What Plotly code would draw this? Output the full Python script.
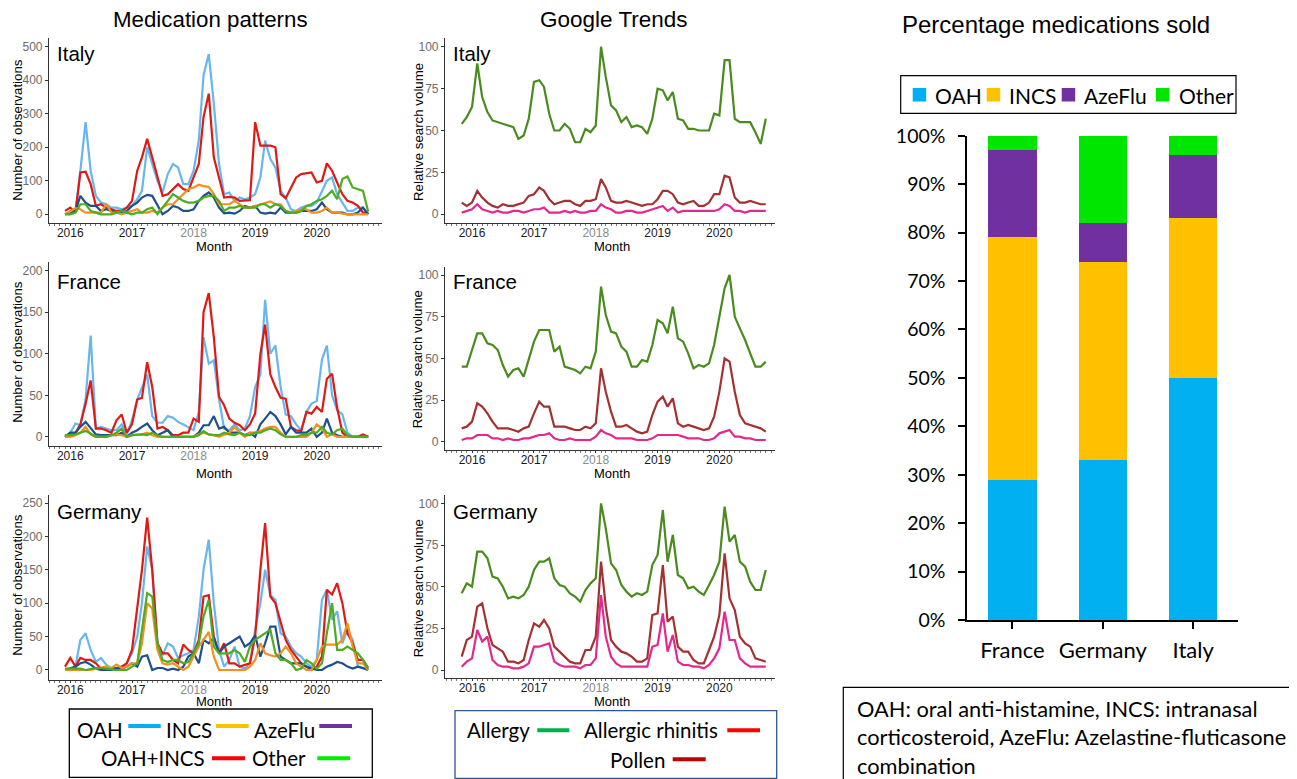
import pandas as pd
import plotly.graph_objects as go

# The page body keeps an 8 px margin, so the figure is 8 px smaller and
# every reference pixel position is shifted by that offset.
OFF = 8
W, H = 1297 - OFF, 779 - OFF


def px(x):
    return (x - OFF) / W


def py(y):
    return 1 - (y - OFF) / H


# ---------------- data ----------------
med_months = pd.date_range("2015-12-01", periods=60, freq="MS")
gt_months = pd.date_range("2015-11-01", periods=60, freq="MS")
year_ticks = ["2016-01-01", "2017-01-01", "2018-01-01", "2019-01-01", "2020-01-01"]
year_labels = ["2016", "2017", "<span style='color:#8a8a8a'>2018</span>", "2019", "2020"]

# Medication patterns (number of observations), Dec 2015 - Nov 2020
italy_oah = [0, 5, 10, 130, 275, 130, 55, 35, 30, 20, 20, 15,
             20, 25, 45, 70, 200, 150, 100, 65, 120, 150, 140, 90,
             90, 130, 220, 415, 478, 330, 150, 60, 65, 40, 50, 45,
             50, 60, 110, 220, 165, 140, 70, 50, 15, 10, 20, 25,
             25, 35, 70, 100, 110, 60, 35, 10, 10, 20, 20, 0]
italy_oah_incs = [10, 20, 5, 125, 127, 90, 25, 30, 20, 15, 10, 10,
                  20, 40, 130, 170, 225, 170, 110, 55, 60, 75, 90, 75,
                  70, 110, 150, 290, 360, 170, 110, 50, 52, 50, 40, 42,
                  42, 275, 205, 205, 205, 200, 60, 48, 80, 110, 120, 123,
                  125, 95, 100, 152, 130, 95, 60, 40, 35, 25, 5, 5]
italy_azeflu = [0, 5, 10, 55, 35, 25, 25, 10, 15, 10, 5, 5,
                10, 25, 35, 50, 58, 55, 25, 0, 10, 25, 20, 10,
                10, 15, 40, 55, 65, 50, 20, 3, 5, 2, 10, 25,
                20, 25, 5, 2, 5, 2, 20, 5, 5, 5, 10, 10,
                10, 15, 35, 15, 5, 5, 5, 0, 0, 5, 20, 0]
italy_incs = [0, 10, 18, 15, 5, 5, 5, 5, 30, 5, 5, 0,
              5, 10, 15, 5, 5, 10, 5, 20, 30, 30, 45, 60,
              75, 80, 88, 84, 82, 60, 30, 30, 30, 40, 30, 20,
              20, 25, 30, 35, 38, 30, 30, 10, 5, 10, 15, 15,
              5, 5, 10, 20, 5, 5, 2, 0, 0, 0, 0, 0]
italy_other = [0, 0, 5, 30, 30, 10, 5, 0, 0, 0, 5, 10,
               5, 0, 5, 5, 15, 20, 0, 20, 40, 60, 50, 40,
               35, 35, 40, 50, 55, 55, 40, 10, 20, 20, 25, 20,
               20, 20, 30, 30, 20, 30, 25, 10, 5, 5, 10, 25,
               30, 40, 45, 55, 70, 45, 105, 113, 80, 75, 70, 8]

france_oah = [0, 5, 16, 14, 45, 122, 10, 12, 10, 8, 8, 15,
              3, 20, 45, 60, 75, 25, 17, 17, 25, 23, 18, 15,
              12, 8, 30, 120, 88, 92, 45, 10, 8, 15, 8, 10,
              25, 60, 75, 165, 100, 110, 60, 27, 25, 15, 8, 30,
              40, 43, 93, 110, 50, 32, 27, 5, 0, 0, 0, 0]
france_oah_incs = [0, 2, 5, 15, 40, 68, 10, 10, 8, 5, 20, 27,
                   5, 15, 45, 47, 90, 60, 10, 12, 8, 2, 2, 5,
                   5, 22, 18, 150, 173, 120, 48, 38, 22, 17, 14, 8,
                   15, 28, 100, 135, 75, 60, 47, 46, 12, 8, 7, 30,
                   28, 36, 30, 70, 76, 35, 5, 0, 0, 0, 3, 0]
france_azeflu = [0, 5, 5, 12, 18, 10, 3, 2, 2, 2, 2, 5,
                 0, 5, 8, 12, 16, 8, 2, 5, 8, 0, 0, 0,
                 0, 0, 5, 14, 14, 25, 10, 12, 5, 5, 5, 2,
                 5, 0, 15, 22, 30, 25, 15, 3, 12, 5, 5, 5,
                 10, 0, 5, 22, 5, 2, 0, 0, 0, 0, 0, 0]
france_incs = [0, 0, 2, 5, 12, 3, 0, 0, 0, 2, 3, 2,
               0, 2, 3, 3, 5, 2, 0, 0, 0, 0, 0, 0,
               0, 0, 3, 5, 3, 2, 0, 2, 5, 12, 5, 0,
               5, 5, 7, 10, 12, 12, 5, 0, 0, 0, 0, 0,
               5, 15, 10, 0, 3, 0, 0, 0, 0, 0, 0, 0]
france_other = [2, 2, 3, 5, 7, 4, 0, 0, 0, 2, 5, 10,
                0, 2, 3, 3, 2, 5, 2, 0, 0, 0, 0, 0,
                0, 0, 2, 7, 3, 2, 2, 5, 3, 2, 5, 2,
                2, 5, 5, 8, 10, 8, 3, 0, 0, 0, 2, 2,
                5, 5, 12, 5, 3, 8, 10, 2, 0, 0, 0, 0]

germany_oah = [0, 0, 5, 45, 55, 30, 12, 18, 8, 2, 0, 5,
               10, 25, 50, 100, 185, 150, 40, 22, 40, 35, 18, 22,
               25, 30, 80, 150, 195, 100, 30, 5, 15, 35, 5, 2,
               10, 60, 100, 150, 112, 105, 55, 50, 35, 25, 20, 10,
               5, 15, 105, 120, 75, 88, 40, 60, 45, 5, 2, 0]
germany_oah_incs = [5, 18, 5, 18, 15, 15, 10, 2, 3, 3, 3, 5,
                    10, 30, 90, 150, 228, 150, 40, 25, 25, 15, 10, 38,
                    30, 25, 45, 110, 112, 50, 25, 40, 10, 10, 5, 8,
                    10, 50, 150, 220, 110, 100, 70, 45, 30, 20, 10, 5,
                    0, 5, 20, 120, 113, 130, 100, 55, 40, 15, 15, 3]
germany_azeflu = [0, 2, 5, 10, 12, 8, 2, 0, 0, 0, 2, 2,
                  5, 10, 5, 20, 22, 0, 3, 3, 0, 2, 0, 5,
                  20, 25, 10, 45, 40, 48, 25, 35, 40, 45, 50, 35,
                  40, 52, 20, 40, 65, 65, 20, 15, 10, 10, 10, 5,
                  2, 0, 0, 5, 8, 12, 10, 5, 2, 5, 3, 0]
germany_incs = [0, 0, 0, 0, 0, 0, 2, 3, 5, 3, 8, 3,
                5, 10, 10, 40, 100, 92, 30, 10, 8, 10, 5, 0,
                5, 20, 35, 45, 57, 20, 0, 0, 0, 0, 0, 0,
                5, 15, 40, 25, 22, 20, 25, 35, 25, 10, 5, 0,
                0, 15, 35, 38, 38, 38, 45, 70, 35, 10, 10, 0]
germany_other = [2, 2, 2, 2, 0, 2, 3, 3, 2, 0, 0, 0,
                 0, 5, 10, 60, 115, 110, 40, 15, 12, 15, 15, 10,
                 12, 25, 40, 80, 105, 35, 25, 25, 25, 30, 25, 12,
                 35, 45, 50, 55, 60, 25, 15, 15, 10, 0, 2, 15,
                 10, 2, 10, 55, 100, 30, 30, 35, 30, 25, 15, 2]

# Google Trends (relative search volume), Nov 2015 - Oct 2020
italy_allergy = [54, 58, 64, 90, 70, 61, 56, 55, 54, 53, 52, 45,
                 47, 57, 79, 80, 76, 60, 50, 50, 54, 51, 43, 43,
                 51, 49, 53, 100, 82, 65, 62, 55, 58, 52, 53, 52,
                 48, 57, 75, 74, 68, 73, 57, 56, 51, 51, 50, 50,
                 50, 60, 59, 92, 92, 57, 55, 55, 55, 49, 42, 57]
italy_pollen = [7, 5, 7, 14, 10, 7, 5, 4, 6, 5, 5, 6,
                7, 11, 12, 16, 14, 9, 6, 7, 8, 8, 6, 5,
                8, 8, 9, 21, 16, 8, 7, 7, 8, 7, 6, 5,
                6, 6, 9, 14, 14, 12, 7, 6, 7, 8, 5, 5,
                7, 12, 12, 23, 22, 10, 7, 7, 8, 7, 6, 6]
italy_rhinitis = [1, 2, 3, 6, 3, 2, 1, 2, 1, 1, 2, 2,
                  1, 2, 3, 3, 4, 1, 1, 1, 2, 1, 2, 1,
                  1, 2, 2, 6, 4, 3, 1, 1, 2, 2, 1, 1,
                  2, 3, 4, 5, 2, 4, 1, 2, 2, 2, 2, 2,
                  2, 2, 3, 6, 5, 2, 2, 1, 2, 2, 2, 2]

france_allergy = [45, 45, 55, 65, 65, 59, 58, 55, 46, 39, 43, 44,
                  39, 50, 60, 67, 67, 67, 54, 57, 45, 44, 43, 41,
                  45, 44, 54, 93, 76, 66, 65, 57, 54, 45, 45, 49,
                  48, 58, 73, 71, 65, 81, 62, 60, 53, 44, 46, 45,
                  47, 58, 75, 92, 100, 75, 68, 61, 53, 45, 45, 48]
france_pollen = [8, 9, 12, 23, 21, 17, 12, 8, 8, 8, 7, 6,
                 8, 9, 17, 24, 21, 21, 9, 9, 9, 8, 7, 7,
                 9, 8, 11, 44, 30, 18, 9, 9, 10, 8, 6, 5,
                 6, 16, 24, 27, 21, 26, 11, 9, 10, 9, 8, 7,
                 8, 15, 30, 50, 48, 30, 16, 11, 10, 9, 8, 6]
france_rhinitis = [1, 2, 2, 4, 4, 4, 2, 2, 1, 2, 1, 1,
                   2, 2, 3, 4, 4, 5, 2, 1, 1, 2, 1, 1,
                   1, 1, 3, 7, 5, 4, 2, 2, 2, 2, 1, 1,
                   1, 2, 4, 4, 4, 4, 4, 3, 2, 2, 2, 1,
                   1, 2, 5, 6, 7, 3, 3, 2, 2, 1, 1, 1]

germany_allergy = [46, 52, 50, 71, 71, 67, 56, 55, 50, 43, 44, 43,
                   45, 50, 60, 65, 65, 67, 55, 51, 50, 46, 44, 41,
                   48, 52, 55, 100, 85, 64, 60, 51, 47, 44, 46, 45,
                   47, 63, 69, 96, 65, 81, 57, 55, 49, 50, 47, 45,
                   51, 57, 65, 98, 77, 81, 65, 62, 53, 48, 48, 60]
germany_pollen = [8, 18, 20, 38, 40, 25, 15, 13, 11, 5, 5, 4,
                  6, 18, 28, 26, 30, 25, 14, 11, 8, 5, 4, 4,
                  12, 12, 20, 65, 38, 18, 14, 11, 10, 8, 5, 5,
                  7, 33, 34, 63, 29, 32, 14, 11, 11, 6, 4, 4,
                  12, 20, 33, 70, 43, 36, 20, 16, 14, 7, 6, 5]
germany_rhinitis = [2, 5, 7, 24, 17, 20, 6, 3, 2, 2, 1, 1,
                    2, 4, 14, 14, 15, 16, 5, 3, 2, 2, 2, 1,
                    3, 3, 7, 45, 20, 8, 4, 2, 2, 2, 2, 2,
                    2, 14, 15, 34, 11, 21, 5, 3, 3, 2, 2, 1,
                    3, 7, 13, 35, 18, 18, 7, 4, 2, 2, 2, 2]

# Percentage medications sold
bar_countries = ["France", "Germany", "Italy"]
pct_oah = [29, 33, 50]
pct_incs = [50, 41, 33]
pct_azeflu = [18, 8, 13]
pct_other = [3, 18, 4]
pct_ticks = list(range(0, 101, 10))
pct_tick_labels = [f"{v}%" for v in pct_ticks]

# ---------------- styling ----------------
GG = "Liberation Sans"
PP = "Lato"
med_colors = {"OAH": "#68b6f0", "OAH+INCS": "#de1a14", "AzeFlu": "#1f4f8c",
              "INCS": "#f39020", "Other": "#4dac22"}
gt_colors = {"Allergy": "#4a8a1e", "Pollen": "#a33131", "Allergic rhinitis": "#e3288f"}

med_panels = [
    ("Italy", {"OAH": italy_oah, "OAH+INCS": italy_oah_incs, "AzeFlu": italy_azeflu,
               "INCS": italy_incs, "Other": italy_other}),
    ("France", {"OAH": france_oah, "OAH+INCS": france_oah_incs, "AzeFlu": france_azeflu,
                "INCS": france_incs, "Other": france_other}),
    ("Germany", {"OAH": germany_oah, "OAH+INCS": germany_oah_incs, "AzeFlu": germany_azeflu,
                 "INCS": germany_incs, "Other": germany_other}),
]
gt_panels = [
    ("Italy", {"Allergy": italy_allergy, "Pollen": italy_pollen, "Allergic rhinitis": italy_rhinitis}),
    ("France", {"Allergy": france_allergy, "Pollen": france_pollen, "Allergic rhinitis": france_rhinitis}),
    ("Germany", {"Allergy": germany_allergy, "Pollen": germany_pollen, "Allergic rhinitis": germany_rhinitis}),
]

# pixel geometry: (x_left, x_right, y_top, y_bottom, yrange, yticks)
med_geom = [
    (49, 382, 38, 223, [-26, 526], [0, 100, 200, 300, 400, 500]),
    (49, 382, 262, 446, [-11, 210.5], [0, 50, 100, 150, 200]),
    (49, 382, 495, 680, [-15, 262], [0, 50, 100, 150, 200, 250]),
]
gt_geom = [
    (445, 775, 38, 223, [-5.2, 105.2], [0, 25, 50, 75, 100]),
    (445, 775, 267, 450, [-5, 104.8], [0, 25, 50, 75, 100]),
    (445, 775, 495, 678, [-4.8, 105], [0, 25, 50, 75, 100]),
]

MD = 30.437


def date_range_for(start, lo, hi):
    s = pd.Timestamp(start)
    return [(s + pd.Timedelta(days=lo * MD)).strftime("%Y-%m-%d %H:%M"),
            (s + pd.Timedelta(days=hi * MD)).strftime("%Y-%m-%d %H:%M")]


med_xrange = date_range_for("2015-12-01", -3.12, 61.73)
gt_xrange = date_range_for("2015-11-01", -3.24, 60.8)

fig = go.Figure()
layout_axes = {}


def axis_names(k):
    return ("x" if k == 1 else f"x{k}", "y" if k == 1 else f"y{k}",
            "xaxis" if k == 1 else f"xaxis{k}", "yaxis" if k == 1 else f"yaxis{k}")


def add_line_axes(k, geom, xrange, tick0):
    xl, xr, yt, yb, yr, yticks = geom
    xa, ya, xkey, ykey = axis_names(k)
    layout_axes[xkey] = dict(
        domain=[px(xl), px(xr)], anchor=ya, type="date", range=xrange, automargin=False,
        showline=True, linecolor="#333333", linewidth=1.2,
        ticks="outside", ticklen=2, tickcolor="#333333", tickwidth=1,
        tickmode="array", tickvals=year_ticks, ticktext=year_labels,
        tickfont=dict(family=GG, size=12, color="#1a1a1a"), ticklabelstandoff=-4,
        showgrid=False, zeroline=False,
        minor=dict(ticks="outside", ticklen=2, tickcolor="#777777", tickwidth=1,
                   dtick="M1", tick0=tick0, showgrid=False),
    )
    layout_axes[ykey] = dict(
        domain=[py(yb), py(yt)], anchor=xa, range=yr, automargin=False,
        tickmode="array", tickvals=yticks,
        showline=True, linecolor="#333333", linewidth=1.2,
        ticks="outside", ticklen=3, tickcolor="#333333", tickwidth=1,
        tickfont=dict(family=GG, size=12, color="#6b6b6b"),
        showgrid=False, zeroline=False,
    )
    return xa, ya


for i, (country, series) in enumerate(med_panels):
    k = i + 1
    xa, ya = add_line_axes(k, med_geom[i], med_xrange, "2015-12-01")
    for name in ["OAH", "OAH+INCS", "AzeFlu", "INCS", "Other"]:
        fig.add_trace(go.Scatter(x=med_months, y=series[name], mode="lines", name=name,
                                 line=dict(color=med_colors[name], width=2.2),
                                 xaxis=xa, yaxis=ya, showlegend=False))

for i, (country, series) in enumerate(gt_panels):
    k = i + 4
    xa, ya = add_line_axes(k, gt_geom[i], gt_xrange, "2015-11-01")
    for name in ["Allergy", "Pollen", "Allergic rhinitis"]:
        fig.add_trace(go.Scatter(x=gt_months, y=series[name], mode="lines", name=name,
                                 line=dict(color=gt_colors[name], width=2.2),
                                 xaxis=xa, yaxis=ya, showlegend=False))

# ---------------- stacked bar ----------------
bar_colors = {"OAH": "#00b0f0", "INCS": "#ffc000", "AzeFlu": "#7030a0", "Other": "#00e600"}
for name, vals in [("OAH", pct_oah), ("INCS", pct_incs), ("AzeFlu", pct_azeflu), ("Other", pct_other)]:
    fig.add_trace(go.Bar(x=bar_countries, y=vals, name=name, marker_color=bar_colors[name],
                         marker_line=dict(width=0), xaxis="x7", yaxis="y7", showlegend=False))

layout_axes["xaxis7"] = dict(
    domain=[px(967.3), px(1238.3)], anchor="y7", type="category", range=[-0.5, 2.5],
    automargin=False,
    showline=True, linecolor="#000000", linewidth=2,
    ticks="outside", ticklen=7, tickcolor="#000000", tickwidth=1.5,
    tickfont=dict(family=PP, size=22, color="#000000"), ticklabelstandoff=3,
    showgrid=False, zeroline=False,
)
layout_axes["yaxis7"] = dict(
    domain=[py(620), py(135.7)], anchor="x7", range=[0, 100], automargin=False,
    tickmode="array", tickvals=pct_ticks, ticktext=pct_tick_labels,
    showline=True, linecolor="#000000", linewidth=2,
    ticks="outside", ticklen=7, tickcolor="#000000", tickwidth=1.5,
    tickfont=dict(family=PP, size=19.5, color="#000000"), ticklabelstandoff=9,
    showgrid=False, zeroline=False,
)

# ---------------- annotations & shapes ----------------
ann = []
shapes = []


def text(x, y, s, size, family=GG, color="#000000", xanchor="left", angle=0):
    ann.append(dict(x=px(x), y=py(y), xref="paper", yref="paper", text=s, showarrow=False,
                    xanchor=xanchor, yanchor="middle", textangle=angle,
                    font=dict(family=family, size=size, color=color)))


def hline(x0, x1, y, color, width=4):
    shapes.append(dict(type="line", xref="paper", yref="paper", x0=px(x0), x1=px(x1),
                       y0=py(y), y1=py(y), line=dict(color=color, width=width)))


def box(x0, y0, x1, y1, color, width=1.3):
    shapes.append(dict(type="rect", xref="paper", yref="paper", x0=px(x0), x1=px(x1),
                       y0=py(y1), y1=py(y0), line=dict(color=color, width=width),
                       fillcolor="rgba(0,0,0,0)"))


# titles
text(210, 20, "Medication patterns", 22.3, GG, xanchor="center")
text(614, 20, "Google Trends", 22.5, GG, xanchor="center")
text(1056, 24, "Percentage medications sold", 24, GG, xanchor="center")

# panel labels
for (country, _), yc in zip(med_panels, [53, 281, 511]):
    text(55, yc, country, 20.5)
for (country, _), yc in zip(gt_panels, [53, 281, 511]):
    text(451, yc, country, 20.5)

# axis titles
for yc in [130, 352, 585]:
    text(16.7, yc, "Number of observations", 13.3, xanchor="center", angle=-90)
for yc in [131.7, 359, 588]:
    text(418.3, yc, "Relative search volume", 13.3, xanchor="center", angle=-90)
for yc in [246, 474, 701]:
    text(214, yc, "Month", 13, xanchor="center")
    text(611.7, yc, "Month", 13, xanchor="center")

# medication legend box (labels end just before their line sample)
box(69.3, 709, 372.3, 777.3, "#000000")
LS = 20.5
R1, R2 = 729.5, 758
text(125.5, R1, "OAH", LS, PP, xanchor="right")
hline(128.3, 160.7, 726, "#00b0f0")
text(214, R1, "INCS", LS, PP, xanchor="right")
hline(216, 248.7, 726, "#ffc000")
text(316.5, R1, "AzeFlu", LS, PP, xanchor="right")
hline(319.3, 352, 726, "#7030a0")
text(207, R2, "OAH+INCS", LS, PP, xanchor="right")
hline(212, 245, 758.3, "#ff0000")
text(308, R2, "Other", LS, PP, xanchor="right")
hline(317.3, 350, 758.3, "#00ee00")

# google trends legend box
box(455, 710.7, 776.7, 778.3, "#2f5597")
text(532, R1, "Allergy", LS, PP, xanchor="right")
hline(537.3, 569.3, 730.3, "#00b050")
text(720, R1, "Allergic rhinitis", LS, PP, xanchor="right")
hline(727.3, 760, 730.3, "#ff0000")
text(666.5, 759.5, "Pollen", LS, PP, xanchor="right")
hline(672.7, 705.7, 759.3, "#c00000")

# bar legend (manual)
box(900.7, 75.7, 1236, 113.3, "#000000", 1.2)
for name, sx, tx in [("OAH", 912.7, 932.7), ("INCS", 986.7, 1006.7),
                     ("AzeFlu", 1061.7, 1081.7), ("Other", 1156, 1176.7)]:
    shapes.append(dict(type="rect", xref="paper", yref="paper", x0=px(sx), x1=px(sx + 13.5),
                       y0=py(101.5), y1=py(88), line=dict(width=0), fillcolor=bar_colors[name]))
    text(tx, 95, name, 21, PP)

# note box
box(843.3, 687.3, 1310, 790, "#000000", 1.2)
for yc, line_txt in [(708, "OAH: oral anti-histamine, INCS: intranasal"),
                     (736.5, "corticosteroid, AzeFlu: Azelastine-fluticasone"),
                     (765, "combination")]:
    text(855, yc, line_txt, 21.8, PP)

fig.update_layout(
    width=W, height=H, margin=dict(l=0, r=0, t=0, b=0, autoexpand=False),
    paper_bgcolor="white", plot_bgcolor="white",
    barmode="stack", bargap=0.463,
    annotations=ann, shapes=shapes, showlegend=False,
    **layout_axes,
)

fig.write_html("out.html")
